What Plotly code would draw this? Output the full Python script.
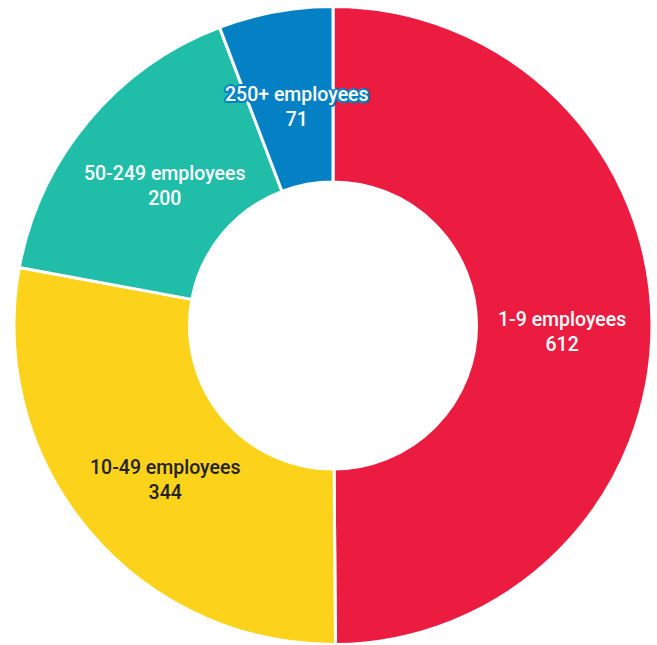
import math
import plotly.graph_objects as go

# Companies by size band
categories = ["1-9 employees", "10-49 employees", "50-249 employees", "250+ employees"]
values = [612, 344, 200, 71]
colors = ["#EC1B40", "#FCD21B", "#20BDA8", "#0381C4"]
text_colors = ["#FFFFFF", "#222222", "#FFFFFF", "#FFFFFF"]

W, H = 657, 645
margin = dict(l=14, r=5, t=6, b=0)
hole = 0.45

fig = go.Figure(
    go.Pie(
        labels=categories,
        values=values,
        hole=hole,
        sort=False,
        direction="clockwise",
        rotation=0,
        marker=dict(colors=colors, line=dict(color="white", width=3)),
        textinfo="none",
        hoverinfo="label+value",
        showlegend=False,
    )
)

# Place each label at the middle of its ring segment
pw = W - margin["l"] - margin["r"]
ph = H - margin["t"] - margin["b"]
radius = min(pw, ph) / 2
cx = margin["l"] + pw / 2
cy = margin["t"] + ph / 2
r_mid = radius * (1 + hole) / 2
total = sum(values)
cum = 0
annotations = []
for cat, val, tc in zip(categories, values, text_colors):
    theta = 2 * math.pi * (cum + val / 2) / total
    cum += val
    px = cx + r_mid * math.sin(theta)
    py = cy - r_mid * math.cos(theta) + 4
    font = dict(family="Roboto, Arial, sans-serif", size=19.5, color=tc, weight=500)
    if val == 71:
        s = "#0381C4"
        font["shadow"] = (f"-1.5px -1.5px 0 {s}, 1.5px -1.5px 0 {s}, -1.5px 1.5px 0 {s}, "
                          f"1.5px 1.5px 0 {s}, 0 2px 0 {s}, 0 -2px 0 {s}, 2px 0 0 {s}, -2px 0 0 {s}")
    annotations.append(dict(
        x=px / W, y=1 - py / H, xref="paper", yref="paper",
        text=f"{cat}<br>{val}", showarrow=False, font=font,
        xanchor="center", yanchor="middle", align="center",
    ))

fig.update_layout(
    width=W, height=H,
    margin=margin,
    paper_bgcolor="white",
    plot_bgcolor="white",
    annotations=annotations,
)

fig.write_html("out.html")
